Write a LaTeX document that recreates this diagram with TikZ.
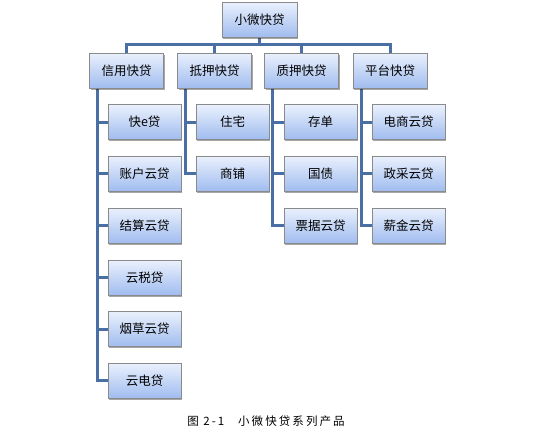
\documentclass[tikz,border=0pt]{standalone}
\usepackage{fontspec}
\setmainfont{Noto Sans CJK SC}
\newfontfamily\capfont[LetterSpace=18]{Noto Sans CJK SC}
\usetikzlibrary{shadows,backgrounds}
\definecolor{conncol}{HTML}{4A6FA5}
\definecolor{boxtop}{HTML}{EAF1FD}
\definecolor{boxbot}{HTML}{A0BCEF}
\definecolor{boxline}{HTML}{8A8A8A}
\tikzset{
  pbox/.style={draw=boxline, line width=0.8pt, top color=boxtop, bottom color=boxbot,
    minimum width=74pt, minimum height=35pt, inner sep=0pt,
    font=\fontsize{12.5pt}{14pt}\selectfont,
    drop shadow={shadow xshift=1.2pt, shadow yshift=-1.6pt, fill=black, opacity=0.35}},
  conn/.style={draw=conncol, line width=3pt}
}
\begin{document}
\begin{tikzpicture}[x=1pt,y=-1pt]
\useasboundingbox (0,0) rectangle (549,437);
% root
\node[pbox, minimum width=75pt] (root) at (259.5,19.5) {小微快贷};
% level 1
\node[pbox] (a) at (126.5,70.5) {信用快贷};
\node[pbox] (b) at (214.5,70.5) {抵押快贷};
\node[pbox] (c) at (301.5,70.5) {质押快贷};
\node[pbox] (d) at (390,70.5) {平台快贷};
% children of a
\node[pbox, minimum width=73pt] (a1) at (144.5,122) {快e贷};
\node[pbox, minimum width=73pt] (a2) at (144.5,173.5) {账户云贷};
\node[pbox, minimum width=73pt] (a3) at (144.5,225.5) {结算云贷};
\node[pbox, minimum width=73pt] (a4) at (144.5,277.5) {云税贷};
\node[pbox, minimum width=73pt] (a5) at (144.5,329) {烟草云贷};
\node[pbox, minimum width=73pt] (a6) at (144.5,380.5) {云电贷};
% children of b
\node[pbox, minimum width=73pt] (b1) at (232.5,122) {住宅};
\node[pbox, minimum width=73pt] (b2) at (232.5,173.5) {商铺};
% children of c
\node[pbox, minimum width=73pt] (c1) at (320.5,122) {存单};
\node[pbox, minimum width=73pt] (c2) at (320.5,173.5) {国债};
\node[pbox, minimum width=73pt] (c3) at (320.5,225.5) {票据云贷};
% children of d
\node[pbox, minimum width=73pt] (d1) at (408.5,122) {电商云贷};
\node[pbox, minimum width=73pt] (d2) at (408.5,173.5) {政采云贷};
\node[pbox, minimum width=73pt] (d3) at (408.5,225.5) {薪金云贷};
% caption
\node[font=\capfont\fontsize{11.5pt}{13pt}\selectfont] (cap) at (266,421) {图 2-1\hspace{1.2em}小微快贷系列产品};
\coordinate (bus) at (0,44.5);
\begin{scope}[on background layer]
\draw[conn] (root.south) -- (root.south |- bus);
\draw[conn] (a.north) |- (bus -| d.north) -- (d.north);
\draw[conn] (b.north) -- (b.north |- bus);
\draw[conn] (c.north) -- (c.north |- bus);
% trunks
\coordinate (ta) at ([xshift=8.5pt]a.south west);
\coordinate (tb) at ([xshift=8.5pt]b.south west);
\coordinate (tc) at ([xshift=8.5pt]c.south west);
\coordinate (td) at ([xshift=8.5pt]d.south west);
\draw[conn] (ta) |- (a6.west);
\foreach \n in {a1,a2,a3,a4,a5} \draw[conn] (ta |- \n.west) -- (\n.west);
\draw[conn] (tb) |- (b2.west);
\draw[conn] (tb |- b1.west) -- (b1.west);
\draw[conn] (tc) |- (c3.west);
\foreach \n in {c1,c2} \draw[conn] (tc |- \n.west) -- (\n.west);
\draw[conn] (td) |- (d3.west);
\foreach \n in {d1,d2} \draw[conn] (td |- \n.west) -- (\n.west);
\end{scope}
\end{tikzpicture}
\end{document}
